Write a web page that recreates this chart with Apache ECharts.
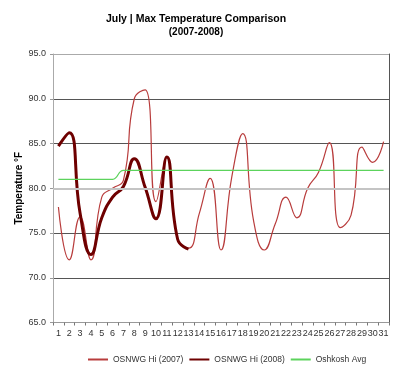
<!DOCTYPE html>
<html><head><meta charset="utf-8">
<script src="https://cdn.jsdelivr.net/npm/echarts@6/dist/echarts.min.js"></script>
<style>html,body{margin:0;padding:0;background:#fff}#c{width:400px;height:372px}</style>
</head><body><div id="c"></div>
<script>
const titleText = 'July | Max Temperature Comparison';
const subTitle = '(2007-2008)';
const yAxisTitle = 'Temperature °F';
const days = ['1','2','3','4','5','6','7','8','9','10','11','12','13','14','15','16','17','18','19','20','21','22','23','24','25','26','27','28','29','30','31'];
const seriesNames = ['OSNWG Hi (2007)', 'OSNWG Hi (2008)', 'Oshkosh Avg'];
const hi2007 = [77.9, 72.0, 76.8, 72.0, 79.0, 80.0, 80.9, 90.0, 91.0, 78.5, 83.5, 74.3, 73.3, 77.2, 81.1, 73.1, 81.3, 86.1, 76.4, 73.1, 76.0, 79.0, 76.7, 80.0, 81.8, 85.1, 75.6, 77.0, 84.6, 82.9, 85.2];
const hi2008 = [84.7, 86.2, 77.2, 72.6, 76.7, 79.0, 80.2, 83.3, 80.1, 76.6, 83.5, 74.3, 73.2];
const oshkoshAvg = [81, 81, 81, 81, 81, 81, 82, 82, 82, 82, 82, 82, 82, 82, 82, 82, 82, 82, 82, 82, 82, 82, 82, 82, 82, 82, 82, 82, 82, 82, 82];
const yMin = 65, yMax = 95, yStep = 5;
const refLine = 80;

const FONT = '"Liberation Sans", Arial, sans-serif';
const chart = echarts.init(document.getElementById('c'), null, {renderer: 'canvas'});
chart.setOption({
  animation: false,
  backgroundColor: '#fff',
  textStyle: {fontFamily: FONT},
  title: {
    text: titleText, subtext: subTitle, left: 196, textAlign: 'center', top: 13, itemGap: 0, padding: 0,
    textStyle: {fontFamily: FONT, fontSize: 10.5, fontWeight: 'bold', color: '#000', lineHeight: 13},
    subtextStyle: {fontFamily: FONT, fontSize: 10, fontWeight: 'bold', color: '#000', lineHeight: 13}
  },
  legend: {
    data: seriesNames, top: 355, left: 87, itemWidth: 20, itemHeight: 8, itemGap: 5, padding: 0,
    itemStyle: {opacity: 0},
    textStyle: {fontFamily: FONT, fontSize: 8.5, color: '#333'}
  },
  grid: {left: 53, right: 11, top: 54, bottom: 49.5},
  xAxis: {
    type: 'category', data: days, boundaryGap: true,
    axisLine: {lineStyle: {color: '#999'}},
    axisTick: {show: true, length: 3, interval: 0, lineStyle: {color: '#777'}},
    axisLabel: {interval: 0, fontSize: 9, color: '#333', margin: 7, fontFamily: FONT},
    splitLine: {show: false}
  },
  yAxis: [{
    type: 'value', min: yMin, max: yMax, interval: yStep,
    axisLine: {show: true, lineStyle: {color: '#aaa'}},
    axisTick: {show: true, length: 3, lineStyle: {color: '#999'}},
    axisLabel: {formatter: v => v.toFixed(1), fontSize: 9, color: '#333', margin: 7, fontFamily: FONT},
    splitLine: {show: true, lineStyle: {color: ['#aaa', '#555', '#555', '#c4c4c4', '#555', '#555', '#aaa'], width: 1}},
    name: yAxisTitle, nameLocation: 'middle', nameRotate: 90, nameGap: 29, nameMoveOverlap: false,
    nameTextStyle: {fontFamily: FONT, fontWeight: 'bold', fontSize: 10, color: '#000'}
  }, {
    type: 'value', position: 'right', min: yMin, max: yMax, interval: yStep,
    axisLine: {show: true, lineStyle: {color: '#555'}},
    axisTick: {show: false}, axisLabel: {show: false}, splitLine: {show: false}
  }],
  series: [
    {name: 'ref', type: 'line', data: [], z: 1, silent: true,
      markLine: {symbol: 'none', silent: true, label: {show: false}, animation: false,
        lineStyle: {color: '#c4c4c4', width: 2, type: 'solid'}, data: [{yAxis: refLine}]}},
    {name: seriesNames[0], type: 'line', data: hi2007, smooth: 0.5, symbol: 'none', z: 3,
      lineStyle: {color: '#b83c3c', width: 1.2}, itemStyle: {color: '#b83c3c'}},
    {name: seriesNames[1], type: 'line', data: hi2008, smooth: 0.5, symbol: 'none', z: 4,
      lineStyle: {color: '#6e0000', width: 3}, itemStyle: {color: '#6e0000'}},
    {name: seriesNames[2], type: 'line', data: oshkoshAvg, smooth: 0.5, symbol: 'none', z: 5,
      lineStyle: {color: '#5cd35c', width: 1.2}, itemStyle: {color: '#5cd35c'}}
  ]
});
</script></body></html>
